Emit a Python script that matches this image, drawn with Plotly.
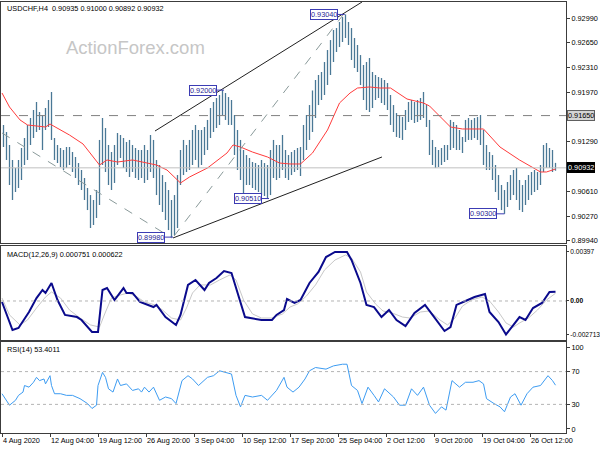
import plotly.graph_objects as go
import numpy as np

# ---------------- data ----------------
# H4 price bars (high / low), every second bar, left to right
bar_high = [0.91521,0.91424,0.91246,0.91040,0.90930,0.91040,0.91205,0.91342,0.91521,0.91617,
            0.91727,0.91837,0.91699,0.91658,0.91754,0.91864,0.91974,0.91342,0.91246,0.91205,
            0.91177,0.91218,0.91218,0.91150,0.91081,0.90998,0.90902,0.90792,0.90655,0.90558,
            0.90490,0.90627,0.91315,0.91617,0.91479,0.91246,0.91150,0.91246,0.91411,0.91383,
            0.91342,0.91287,0.91315,0.91246,0.91205,0.91177,0.91177,0.91246,0.91177,0.91383,
            0.91315,0.91040,0.90971,0.90833,0.90737,0.90627,0.90490,0.90558,0.90833,0.91177,
            0.91315,0.91246,0.91315,0.91452,0.91521,0.91452,0.91452,0.91493,0.91590,0.91754,
            0.91837,0.91892,0.91933,0.92000,0.91960,0.91905,0.91864,0.91658,0.91452,0.91315,
            0.91177,0.91108,0.91067,0.91012,0.90998,0.90971,0.91040,0.90998,0.90971,0.91177,
            0.91315,0.91246,0.91246,0.91383,0.91177,0.91108,0.91150,0.91177,0.91205,0.91218,
            0.91521,0.91658,0.91795,0.91995,0.92139,0.92208,0.92249,0.92386,0.92551,0.92688,
            0.92826,0.92853,0.92936,0.93004,0.93040,0.92936,0.92853,0.92716,0.92620,0.92482,
            0.92345,0.92386,0.92441,0.92249,0.92208,0.92180,0.92166,0.92139,0.92098,0.91933,
            0.91795,0.91685,0.91658,0.91630,0.91727,0.91837,0.91864,0.91837,0.91864,0.91892,
            0.91974,0.91795,0.91590,0.91315,0.91218,0.91177,0.91205,0.91246,0.91246,0.91590,
            0.91562,0.91521,0.91452,0.91356,0.91590,0.91617,0.91590,0.91617,0.91630,0.91658,
            0.91452,0.91246,0.91150,0.91108,0.90971,0.90833,0.90696,0.90627,0.90737,0.90833,
            0.90902,0.90930,0.90765,0.90696,0.90765,0.90833,0.90875,0.90902,0.90875,0.90971,
            0.91246,0.91273,0.91205,0.91177,0.91000]
bar_low = [0.91218,0.91040,0.90696,0.90490,0.90600,0.90655,0.90765,0.90971,0.91040,0.91246,
           0.91342,0.91424,0.91452,0.91177,0.91452,0.91493,0.91315,0.91040,0.90998,0.90943,
           0.90902,0.90930,0.90971,0.90875,0.90792,0.90696,0.90627,0.90490,0.90352,0.90105,
           0.90146,0.90243,0.90421,0.90971,0.90875,0.90696,0.90627,0.90724,0.90971,0.91067,
           0.90930,0.90875,0.90806,0.90875,0.90792,0.90765,0.90792,0.90724,0.90765,0.90875,
           0.90792,0.90558,0.90421,0.90325,0.90215,0.90077,0.89980,0.90009,0.90105,0.90696,
           0.90833,0.90875,0.90902,0.90971,0.91040,0.90930,0.90971,0.91108,0.91177,0.91342,
           0.91424,0.91479,0.91521,0.91658,0.91590,0.91521,0.91521,0.91108,0.90902,0.90765,
           0.90558,0.90696,0.90696,0.90655,0.90627,0.90600,0.90558,0.90545,0.90510,0.90558,
           0.90792,0.90765,0.90792,0.90902,0.90792,0.90765,0.90833,0.90875,0.90902,0.90820,
           0.91040,0.91177,0.91315,0.91424,0.91617,0.91795,0.91864,0.91933,0.92070,0.92208,
           0.92386,0.92524,0.92592,0.92661,0.92716,0.92620,0.92414,0.92304,0.92249,0.92070,
           0.91864,0.91727,0.91699,0.91754,0.91864,0.91892,0.91823,0.91795,0.91727,0.91521,
           0.91424,0.91356,0.91342,0.91315,0.91452,0.91562,0.91590,0.91548,0.91562,0.91590,
           0.91617,0.91493,0.91108,0.90971,0.90930,0.90943,0.90971,0.91012,0.91040,0.91177,
           0.91205,0.91177,0.91177,0.91136,0.91287,0.91315,0.91315,0.91342,0.91315,0.91246,
           0.90971,0.90902,0.90902,0.90765,0.90600,0.90490,0.90352,0.90300,0.90394,0.90490,
           0.90558,0.90490,0.90352,0.90325,0.90421,0.90490,0.90558,0.90600,0.90627,0.90696,
           0.90875,0.90930,0.90930,0.90875,0.90892]
bar_first, bar_last, bar_step = 1, 369, 2      # H4 bar index of drawn bars

ma_idx = [0,5,12,17,23,29,32,37,45,54,61,65,70,77,87,94,103,110,119,125,137,150,154,159,167,
          177,185,192,199,207,217,225,232,237,245,252,259,270,281,285,299,307,321,332,345,359,363,369]
ma_val = [0.91960,0.91768,0.91590,0.91521,0.91507,0.91493,0.91534,0.91479,0.91383,0.91260,
          0.91081,0.90971,0.91040,0.91012,0.91040,0.91012,0.90971,0.90902,0.90724,0.90806,
          0.90930,0.91136,0.91246,0.91218,0.91149,0.91081,0.90998,0.90985,0.90985,0.91136,
          0.91452,0.91823,0.91960,0.92029,0.92043,0.92029,0.92029,0.91878,0.91823,0.91782,
          0.91493,0.91466,0.91466,0.91218,0.91040,0.90875,0.90875,0.90916]

macd_idx = [0,7,11,18,23,27,29,33,37,42,50,53,60,64,67,70,75,81,83,87,92,97,101,103,109,116,119,
            124,129,135,138,143,148,153,162,173,180,183,188,190,195,199,205,211,216,222,230,233,
            239,243,248,253,258,263,269,275,282,287,295,299,303,309,315,322,325,331,336,341,345,
            349,354,360,365,369]
macd_val = [-0.00008,-0.00235,-0.00219,-0.00089,0.00024,0.00089,0.00065,0.00146,0.00008,-0.00113,
            -0.00130,-0.00154,-0.00251,-0.00251,0.00089,0.00105,0.00008,0.00105,0.00065,0.00065,
            -0.00008,-0.00032,-0.00049,-0.00032,-0.00130,-0.00194,-0.00113,0.00130,0.00170,0.00089,
            0.00146,0.00186,0.00243,0.00227,-0.00130,-0.00154,-0.00154,-0.00113,-0.00073,0.00016,
            -0.00016,0.00008,0.00146,0.00235,0.00356,0.00397,0.00397,0.00332,0.00146,-0.00032,
            -0.00049,-0.00130,-0.00073,-0.00154,-0.00203,-0.00097,-0.00032,-0.00113,-0.00243,-0.00211,
            -0.00032,0.0,0.00032,0.00057,-0.00089,-0.00170,-0.002713,-0.00194,-0.00130,-0.00154,
            -0.00057,-0.00016,0.00073,0.000751]
sig_idx = [0,5,12,17,23,29,33,39,45,52,59,65,69,73,79,84,89,95,102,107,113,119,123,127,132,139,
           145,152,156,161,167,173,180,187,192,197,203,209,215,222,229,233,239,243,249,254,260,
           267,272,279,285,292,297,302,307,313,320,325,331,336,341,345,351,357,363,367,369]
sig_val = [0.00024,-0.00113,-0.00194,-0.00154,-0.00057,0.00032,0.00073,0.00024,-0.00073,-0.00138,
           -0.00194,-0.00211,-0.00089,0.00024,0.00049,0.00065,0.00041,-0.00008,-0.00032,-0.00073,
           -0.00138,-0.00154,-0.00057,0.00065,0.00130,0.00130,0.00170,0.00211,0.00170,0.00008,
           -0.00105,-0.00138,-0.00138,-0.00105,-0.00049,-0.00024,0.00041,0.00130,0.00251,0.00332,
           0.00373,0.00348,0.00235,0.00073,-0.00024,-0.00081,-0.00097,-0.00130,-0.00138,-0.00089,
           -0.00081,-0.00154,-0.00194,-0.00138,-0.00041,0.00008,0.00032,0.0,-0.00089,-0.00178,
           -0.00211,-0.00178,-0.00138,-0.00073,0.00008,0.00041,0.000622]

rsi_idx = [0,4,5,9,11,14,15,18,21,23,25,28,29,32,33,35,39,43,47,52,57,60,63,64,67,69,71,74,77,79,
           83,87,91,93,95,98,101,105,109,113,116,120,124,127,131,137,141,145,149,153,156,159,162,
           167,173,177,183,188,190,194,198,202,205,209,216,221,227,230,233,237,240,244,248,251,
           255,261,265,269,273,277,281,285,289,293,296,300,305,309,314,318,321,323,328,332,335,
           339,342,346,350,354,359,364,367,369]
rsi_val = [43,33,29,35,41,45,53,51,57,63,59,61,55,65,53,43,43,41,41,37,31,25,29,53,69,63,49,45,61,53,
           55,47,49,45,51,45,51,35,39,37,31,59,65,61,53,63,65,71,69,67,41,27,41,39,41,35,47,63,51,45,
           51,61,71,75,73,77,79,79,53,47,31,51,41,33,49,39,29,29,49,41,51,29,19,27,23,59,51,57,57,59,
           55,37,31,27,21,39,43,29,43,51,53,65,59,53.4011]

price_ticks = [0.8994, 0.9027, 0.9061, 0.9129, 0.9197, 0.9231, 0.9265, 0.9299]
price_tick_text = ["0.89940", "0.90270", "0.90610", "0.91290", "0.91970", "0.92310", "0.92650", "0.92990"]
hline_price = 0.9165
last_price = 0.90932

time_tick_idx = [0, 32, 64, 96, 128, 160, 192, 224, 256, 288, 320, 352]
time_tick_text = ["4 Aug 2020", "12 Aug 04:00", "19 Aug 12:00", "26 Aug 20:00", "3 Sep 04:00",
                  "10 Sep 12:00", "17 Sep 20:00", "25 Sep 04:00", "2 Oct 12:00", "9 Oct 20:00",
                  "19 Oct 04:00", "26 Oct 12:00"]

# swing labels
swing_text = ["0.92000", "0.93040", "0.90510", "0.89980", "0.90300"]
swing_box_idx = [143.3, 224.0, 173.3, 108.7, 330.0]
swing_bar_idx = [148.0, 228.5, 178.0, 114.0, 335.0]
swing_price = [0.92000, 0.93040, 0.90510, 0.89980, 0.90300]

# trend lines: (idx0, price0, idx1, price1)
solid_lines = [(102, 0.91438, 240, 0.93211), (114, 0.89968, 253.3, 0.91081)]
dashed_lines = [(0, 0.91411, 113.3, 0.89968), (114.7, 0.89995, 227.3, 0.93032)]

# ---------------- figure ----------------
FONT = "Liberation Sans"
assert len(bar_high) == len(bar_low)
bar_pos = np.arange(bar_first, bar_last + 1, bar_step)
assert len(bar_pos) == len(bar_high)
bx, by = [], []
for t, h, l in zip(bar_pos, bar_high, bar_low):
    bx += [t, t, None]
    by += [l, h, None]

fig = go.Figure()
fig.add_trace(go.Scatter(x=bx, y=by, mode="lines", line=dict(color="#4a7896", width=1.3),
                         hoverinfo="skip", xaxis="x", yaxis="y"))
fig.add_trace(go.Scatter(x=ma_idx, y=ma_val, mode="lines", line=dict(color="#ff3b3b", width=1),
                         xaxis="x", yaxis="y"))
fig.add_trace(go.Scatter(x=sig_idx, y=sig_val, mode="lines", line=dict(color="#c8c8c8", width=1),
                         xaxis="x2", yaxis="y2"))
fig.add_trace(go.Scatter(x=macd_idx, y=macd_val, mode="lines", line=dict(color="#0a0a8c", width=2),
                         xaxis="x2", yaxis="y2"))
fig.add_trace(go.Scatter(x=rsi_idx, y=rsi_val, mode="lines", line=dict(color="#3d9cf2", width=1),
                         xaxis="x3", yaxis="y3"))

XDOM = [1/600, 566/600]
XR = [-0.667, 376]
frame = dict(showline=True, mirror=True, linecolor="#3c3c3c", linewidth=1, showgrid=False,
             zeroline=False, automargin=False)
tickf = dict(family=FONT, size=7.3, color="#000000")

shapes = []
shapes.append(dict(type="line", xref="x domain", x0=0, x1=1, yref="y", y0=hline_price, y1=hline_price,
                   line=dict(color="#808080", width=1, dash="dash")))
shapes.append(dict(type="line", xref="x domain", x0=0, x1=1, yref="y", y0=last_price, y1=last_price,
                   line=dict(color="#c0c0c0", width=1)))
for (a, b, c, d) in solid_lines:
    shapes.append(dict(type="line", xref="x", yref="y", x0=a, y0=b, x1=c, y1=d,
                       line=dict(color="#202020", width=1)))
for (a, b, c, d) in dashed_lines:
    shapes.append(dict(type="line", xref="x", yref="y", x0=a, y0=b, x1=c, y1=d,
                       line=dict(color="#8a9a9a", width=1, dash="dash")))
for bi, ti, p in zip(swing_box_idx, swing_bar_idx, swing_price):
    shapes.append(dict(type="line", xref="x", yref="y", x0=bi, y0=p, x1=ti, y1=p,
                       line=dict(color="#3c3cb4", width=1)))
shapes.append(dict(type="line", xref="x2 domain", x0=0, x1=1, yref="y2", y0=0, y1=0,
                   line=dict(color="#b4b4b4", width=1, dash="dot")))
for lv in (70, 30):
    shapes.append(dict(type="line", xref="x3 domain", x0=0, x1=1, yref="y3", y0=lv, y1=lv,
                       line=dict(color="#b4b4b4", width=1, dash="dot")))

annotations = []
annotations.append(dict(text="USDCHF,H4  0.90935 0.91000 0.90892 0.90932", xref="paper", yref="paper",
                        x=5/600, y=1-8/450, xanchor="left", yanchor="middle", showarrow=False,
                        font=dict(family=FONT, size=7.3, color="#000000")))
annotations.append(dict(text="ActionForex.com", xref="paper", yref="paper", x=135/600, y=1-47/450,
                        xanchor="center", yanchor="middle", showarrow=False,
                        font=dict(family=FONT, size=18.5, color="#c6c6c6")))
annotations.append(dict(text="MACD(12,26,9) 0.000751 0.000622", xref="paper", yref="paper",
                        x=5/600, y=1-254/450, xanchor="left", yanchor="middle", showarrow=False,
                        font=dict(family=FONT, size=7.3, color="#000000")))
annotations.append(dict(text="RSI(14) 53.4011", xref="paper", yref="paper",
                        x=5/600, y=1-349/450, xanchor="left", yanchor="middle", showarrow=False,
                        font=dict(family=FONT, size=7.3, color="#000000")))
for txt, bi, p in zip(swing_text, swing_box_idx, swing_price):
    annotations.append(dict(text=txt, xref="x", yref="y", x=bi, y=p, xanchor="right", yanchor="middle",
                            showarrow=False, bgcolor="#ffffff", bordercolor="#3c3cb4", borderwidth=1,
                            borderpad=0, font=dict(family=FONT, size=7.3, color="#1e1e96")))
annotations.append(dict(text="0.91650", xref="paper", yref="y", x=567/600, y=hline_price,
                        xanchor="left", yanchor="middle", showarrow=False, bgcolor="#d4d4d4",
                        bordercolor="#606060", borderwidth=1, borderpad=0,
                        font=dict(family=FONT, size=7.3, color="#000000")))
annotations.append(dict(text="0.90932", xref="paper", yref="y", x=567/600, y=last_price,
                        xanchor="left", yanchor="middle", showarrow=False, bgcolor="#000000",
                        bordercolor="#000000", borderwidth=1, borderpad=0,
                        font=dict(family=FONT, size=7.3, color="#ffffff")))

fig.update_layout(
    width=600, height=450, margin=dict(l=0, r=0, t=0, b=0),
    paper_bgcolor="#ffffff", plot_bgcolor="#ffffff", showlegend=False, template="none",
    xaxis=dict(domain=XDOM, range=XR, anchor="y", showticklabels=False, ticks="", **frame),
    yaxis=dict(domain=[0.46, 1-2/450], range=[0.89899, 0.93211], side="right", anchor="x",
               tickvals=price_ticks, ticktext=price_tick_text, ticks="outside", ticklen=3,
               tickcolor="#3c3c3c", tickfont=tickf, **frame),
    xaxis2=dict(domain=XDOM, range=XR, anchor="y2", matches="x", showticklabels=False, ticks="", **frame),
    yaxis2=dict(domain=[1-340/450, 1-246/450], range=[-0.00316, 0.004455], side="right", anchor="x2",
                tickvals=[0.00397, 0.0, -0.002713], ticktext=["0.00397", "<b>0.00</b>", "-0.002713"],
                ticks="outside", ticklen=2, tickcolor="#3c3c3c",
                tickfont=dict(family=FONT, size=6.6, color="#000000"), **frame),
    xaxis3=dict(domain=XDOM, range=XR, anchor="y3", matches="x", tickvals=time_tick_idx,
                ticktext=time_tick_text, ticks="outside", ticklen=3, tickcolor="#3c3c3c",
                tickangle=0, ticklabelposition="outside right", tickfont=tickf, **frame),
    yaxis3=dict(domain=[1-433/450, 1-342/450], range=[-4.9, 106.1], side="right", anchor="x3",
                tickvals=[100, 70, 30, 0], ticktext=["100", "70", "30", "0"], ticks="outside",
                ticklen=3, tickcolor="#3c3c3c", tickfont=tickf, **frame),
    shapes=shapes, annotations=annotations,
)

fig.write_html("out.html", config={"displayModeBar": False},
               post_script="document.body.style.margin='0px';document.body.style.overflow='hidden';")
